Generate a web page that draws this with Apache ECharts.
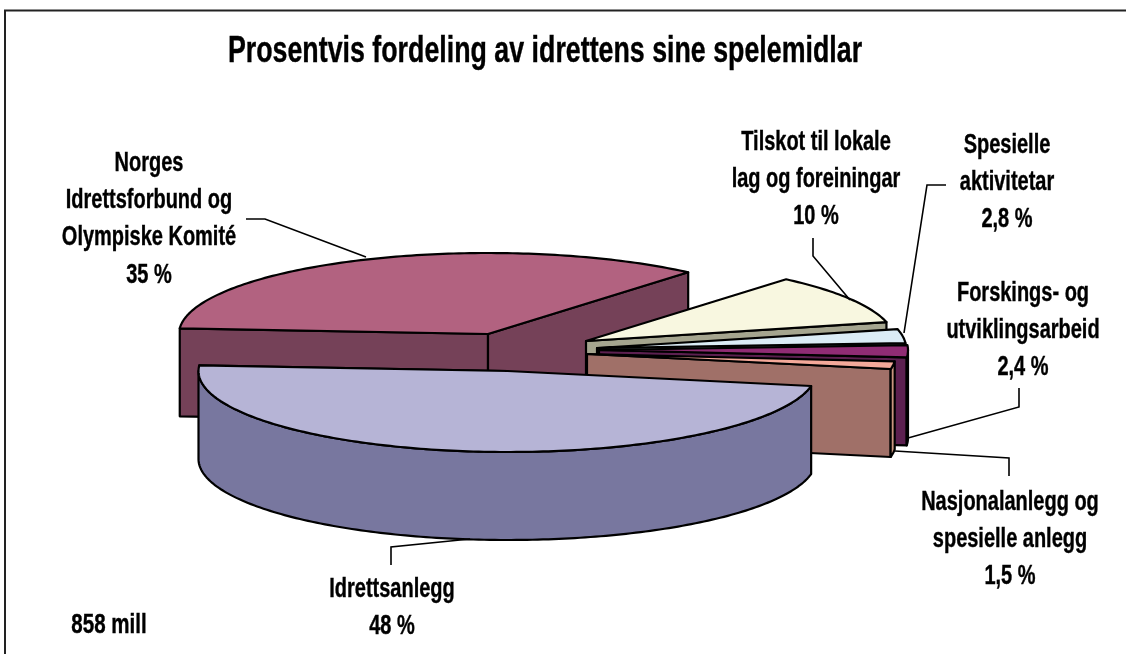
<!DOCTYPE html>
<html>
<head>
<meta charset="utf-8">
<script src="https://cdn.jsdelivr.net/npm/echarts@6/dist/echarts.min.js"></script>
<style>
html, body { margin: 0; padding: 0; background: #fff; }
#main { width: 1126px; height: 654px; }
</style>
</head>
<body>
<div id="main"></div>
<script>
var sliceNames = ['Norges\nIdrettsforbund og\nOlympiske Komité', 'Tilskot til lokale\nlag og foreiningar', 'Spesielle\naktivitetar',
	'Forskings- og\nutviklingsarbeid', 'Nasjonalanlegg og\nspesielle anlegg', 'Idrettsanlegg'];
var sliceValues = [35, 10, 2.8, 2.4, 1.5, 48];
var valueTexts = ['35 %', '10 %', '2,8 %', '2,4 %', '1,5 %', '48 %'];
var topColors = ['#b26280', '#f8f7e0', '#dbecf6', '#902c74', '#f4a99a', '#b6b4d6'];
var wallColors = ['#754158', '#a5a58f', '#8ea3ad', '#5c2050', '#a07068', '#78779f'];
var rimColors = ['#754158', '#a5a58f', '#8ea3ad', '#5c2050', '#c9957f', '#78779f'];

// pie geometry (apex = exploded centre of each slice)
var rx = 309, ry = 81, depth = 88, startAngle = 176;
var apexes = [[488, 334], [586, 341], [597, 348], [599, 350], [587, 354], [507.5, 371]];
var labelPos = [[149, 163], [816, 142], [1007, 145], [1023, 293], [1010, 502], [392, 589]];
var leaders = [
	[[246, 219], [265, 219], [366, 257]],
	[[813, 238], [813, 256], [850, 300]],
	[[946, 185], [927, 185], [904, 333]],
	[[1019, 388], [1019, 407], [908, 438]],
	[[1009, 476], [1009, 458], [895, 451]],
	[[391, 565], [391, 547], [470, 539]]
];
var labelFont = 'bold 27px "Liberation Sans"';
var labelSqueeze = 0.74;

var total = sliceValues.reduce(function(a, b) { return a + b; }, 0);
var sliceAngles = [];
var cur = startAngle;
for (var i = 0; i < sliceValues.length; i++) {
	var sweep = sliceValues[i] / total * 360;
	sliceAngles.push([cur, cur - sweep]);
	cur -= sweep;
}

function rimPoint(apex, deg, dy) {
	var a = deg * Math.PI / 180;
	return [apex[0] + rx * Math.cos(a), apex[1] - ry * Math.sin(a) + (dy || 0)];
}

function arcPoints(apex, from, to, dy) {
	var pts = [];
	var steps = Math.max(2, Math.ceil(Math.abs(from - to)));
	for (var s = 0; s <= steps; s++) {
		pts.push(rimPoint(apex, from + (to - from) * s / steps, dy));
	}
	return pts;
}

function face(points, fill) {
	return {
		type: 'polygon',
		shape: { points: points },
		style: { fill: fill, stroke: '#000', lineWidth: 2.2, lineJoin: 'round' }
	};
}

function wall(apex, deg, fill) {
	var p = rimPoint(apex, deg);
	return face([apex, p, [p[0], p[1] + depth], [apex[0], apex[1] + depth]], fill);
}

function renderSlice(params, api) {
	var idx = params.dataIndex;
	var apex = apexes[idx];
	var from = sliceAngles[idx][0], to = sliceAngles[idx][1];
	var children = [];
	// side walls that face the viewer
	if (Math.cos(from * Math.PI / 180) < 0 && from < 180) children.push(wall(apex, from, wallColors[idx]));
	children.push(wall(apex, to, wallColors[idx]));
	// curved rim, only the part below the horizontal
	var rimFrom = Math.min(from, 0), rimTo = Math.max(to, -180);
	if (rimFrom > rimTo) {
		var upper = arcPoints(apex, rimFrom, rimTo);
		var lower = arcPoints(apex, rimTo, rimFrom, depth);
		children.push(face(upper.concat(lower), rimColors[idx]));
	}
	// top
	children.push(face([apex].concat(arcPoints(apex, from, to)), topColors[idx]));
	return { type: 'group', children: children };
}

function renderLabel(params, api) {
	var idx = params.dataIndex;
	var pos = labelPos[idx];
	return {
		type: 'group',
		children: [{
			type: 'polyline',
			shape: { points: leaders[idx] },
			style: { fill: null, stroke: '#000', lineWidth: 1.6 }
		}, {
			type: 'text',
			x: pos[0], y: pos[1] - 18.5,
			scaleX: labelSqueeze,
			style: {
				text: sliceNames[idx] + '\n' + valueTexts[idx],
				x: 0, y: 0,
				align: 'center', verticalAlign: 'top',
				lineHeight: 37.3, font: labelFont, fill: '#000',
				stroke: '#000', lineWidth: 0.4
			}
		}]
	};
}

var sliceData = sliceValues.map(function(v, i) { return { name: sliceNames[i], value: [v] }; });

var myChart = echarts.init(document.getElementById('main'));
myChart.setOption({
	animation: false,
	backgroundColor: '#fff',
	graphic: [{
		type: 'polyline',
		shape: { points: [[5, 654], [5, 10.5], [1126, 10.5]] },
		style: { fill: null, stroke: '#222', lineWidth: 2 }
	}, {
		type: 'text',
		x: 545, y: 52,
		scaleX: 0.724,
		style: {
			text: 'Prosentvis fordeling av idrettens sine spelemidlar',
			x: 0, y: 0, align: 'center', verticalAlign: 'middle',
			font: 'bold 37px "Liberation Sans"', fill: '#000',
			stroke: '#000', lineWidth: 0.4
		}
	}, {
		type: 'text',
		x: 109, y: 626,
		scaleX: 0.76,
		style: {
			text: '858 mill', x: 0, y: 0, align: 'center', verticalAlign: 'middle',
			font: labelFont, fill: '#000', stroke: '#000', lineWidth: 0.4
		}
	}],
	series: [{
		type: 'custom',
		coordinateSystem: 'none',
		renderItem: renderSlice,
		data: sliceData,
		silent: true,
		z: 2
	}, {
		type: 'custom',
		coordinateSystem: 'none',
		renderItem: renderLabel,
		data: sliceData,
		silent: true,
		z: 3
	}]
});
</script>
</body>
</html>
